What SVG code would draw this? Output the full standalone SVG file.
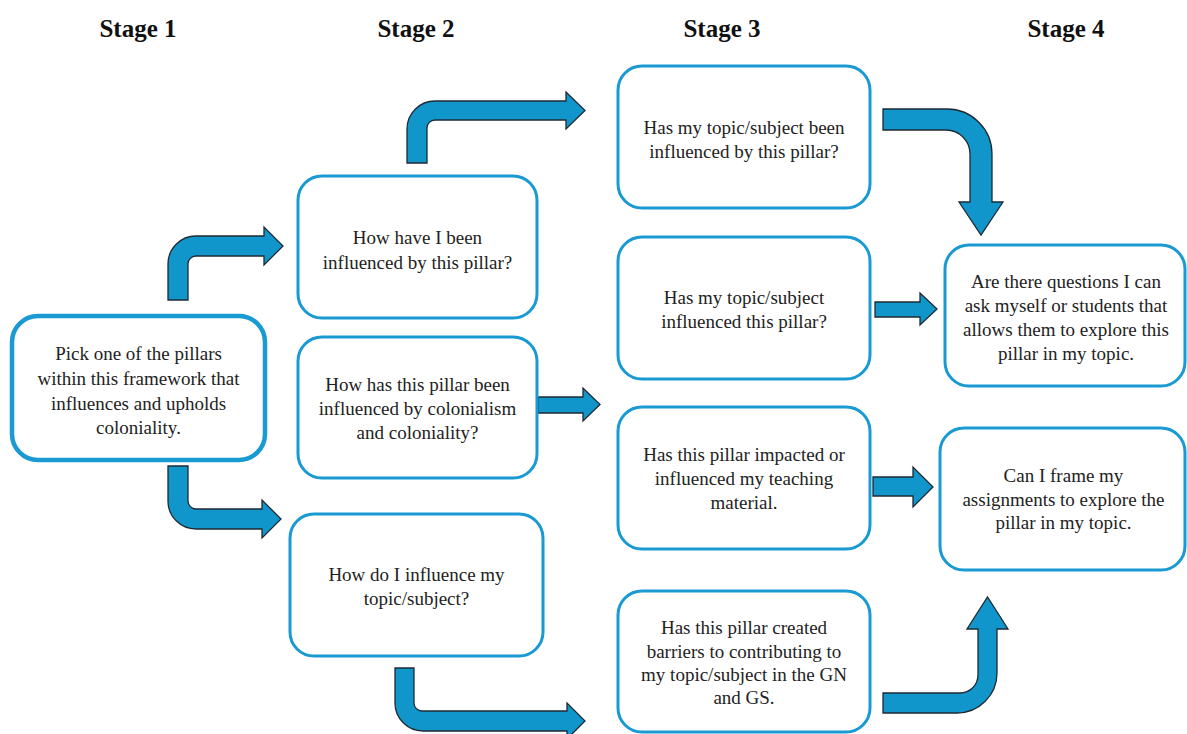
<svg xmlns="http://www.w3.org/2000/svg" width="1187" height="734" viewBox="0 0 1187 734">
<style>
.hdr{font-family:"Liberation Serif","Times New Roman",serif;font-weight:bold;font-size:25px;fill:#111;text-anchor:middle}
.box{fill:#fff;stroke:#1a9ad2;stroke-width:3}
.box1{fill:#fff;stroke:#1a9ad2;stroke-width:4.5}
.t{font-family:"Liberation Serif","Times New Roman",serif;font-size:19px;fill:#222;text-anchor:middle}
.arr{fill:#1196cc;stroke:#1d2a33;stroke-width:1.3;stroke-linejoin:miter}
</style>
<rect width="1187" height="734" fill="#fff"/>
<g id="headers">
<text class="hdr" x="138" y="37">Stage 1</text>
<text class="hdr" x="416" y="37">Stage 2</text>
<text class="hdr" x="722" y="37">Stage 3</text>
<text class="hdr" x="1066" y="37">Stage 4</text>
</g>
<g id="connectors">
<path class="arr" d="M168,300 V264 A28,28 0 0 1 196,236 H264 V227 L283,246 L264,265 V256 H196 A8,8 0 0 0 188,264 V300 Z"/>
<path class="arr" d="M168,466 V501 A28,28 0 0 0 196,529 H262 V538 L281,519 L262,500 V509 H196 A8,8 0 0 1 188,501 V466 Z"/>
<path class="arr" d="M407,163 V129 A28,28 0 0 1 435,101 H566 V92 L585,110.5 L566,129 V120 H435 A8,8 0 0 0 427,128 V163 Z"/>
<path class="arr" d="M883,109 H947 A45,45 0 0 1 992,154 V202 H1003 L981,235 L959,202 H970 V154 A24,24 0 0 0 946,130 H883 Z"/>
<path class="arr" d="M538,397 H583 V388 L600,404.5 L583,421 V413 H538 Z"/>
<path class="arr" d="M875,302 H920 V293 L937,309 L920,325 V317 H875 Z"/>
<path class="arr" d="M873,477 H913 V467 L933,487 L913,507 V496 H873 Z"/>
<path class="arr" d="M395,668 V703 A28,28 0 0 0 423,731 H567 V739 L585,721 L567,703 V711 H422 A8,8 0 0 1 414,703 V668 Z"/>
<path class="arr" d="M883,693 H960 A18,18 0 0 0 978,675 V629 H967 L987.5,597 L1008,629 H997 V673 A40,40 0 0 1 957,713 H883 Z"/>
</g>
<g id="n1">
<rect class="box1" x="12" y="316" width="253" height="144" rx="26"/>
<text class="t" x="138.5" y="360">Pick one of the pillars</text>
<text class="t" x="138.5" y="385">within this framework that</text>
<text class="t" x="138.5" y="410">influences and upholds</text>
<text class="t" x="138.5" y="434">coloniality.</text>
</g>
<g id="n2a">
<rect class="box" x="298" y="176" width="239" height="142" rx="24"/>
<text class="t" x="417.5" y="244">How have I been</text>
<text class="t" x="417.5" y="269">influenced by this pillar?</text>
</g>
<g id="n2b">
<rect class="box" x="298" y="337" width="239" height="141" rx="24"/>
<text class="t" x="417.5" y="391">How has this pillar been</text>
<text class="t" x="417.5" y="415">influenced by colonialism</text>
<text class="t" x="417.5" y="439">and coloniality?</text>
</g>
<g id="n2c">
<rect class="box" x="290" y="514" width="253" height="142" rx="24"/>
<text class="t" x="416.5" y="581">How do I influence my</text>
<text class="t" x="416.5" y="605">topic/subject?</text>
</g>
<g id="n3a">
<rect class="box" x="618" y="66" width="252" height="142" rx="24"/>
<text class="t" x="744" y="134">Has my topic/subject been</text>
<text class="t" x="744" y="158">influenced by this pillar?</text>
</g>
<g id="n3b">
<rect class="box" x="618" y="237" width="252" height="142" rx="24"/>
<text class="t" x="744" y="304">Has my topic/subject</text>
<text class="t" x="744" y="328">influenced this pillar?</text>
</g>
<g id="n3c">
<rect class="box" x="618" y="407" width="252" height="142" rx="24"/>
<text class="t" x="744" y="461">Has this pillar impacted or</text>
<text class="t" x="744" y="485">influenced my teaching</text>
<text class="t" x="744" y="509">material.</text>
</g>
<g id="n3d">
<rect class="box" x="618" y="591" width="252" height="141" rx="24"/>
<text class="t" x="744" y="634">Has this pillar created</text>
<text class="t" x="744" y="658">barriers to contributing to</text>
<text class="t" x="744" y="681">my topic/subject in the GN</text>
<text class="t" x="744" y="704">and GS.</text>
</g>
<g id="n4a">
<rect class="box" x="945" y="245" width="240" height="141" rx="24"/>
<text class="t" x="1066" y="288">Are there questions I can</text>
<text class="t" x="1066" y="312">ask myself or students that</text>
<text class="t" x="1066" y="336">allows them to explore this</text>
<text class="t" x="1066" y="360">pillar in my topic.</text>
</g>
<g id="n4b">
<rect class="box" x="940" y="428" width="245" height="142" rx="24"/>
<text class="t" x="1063.5" y="482">Can I frame my</text>
<text class="t" x="1063.5" y="506">assignments to explore the</text>
<text class="t" x="1063.5" y="529">pillar in my topic.</text>
</g>
</svg>
